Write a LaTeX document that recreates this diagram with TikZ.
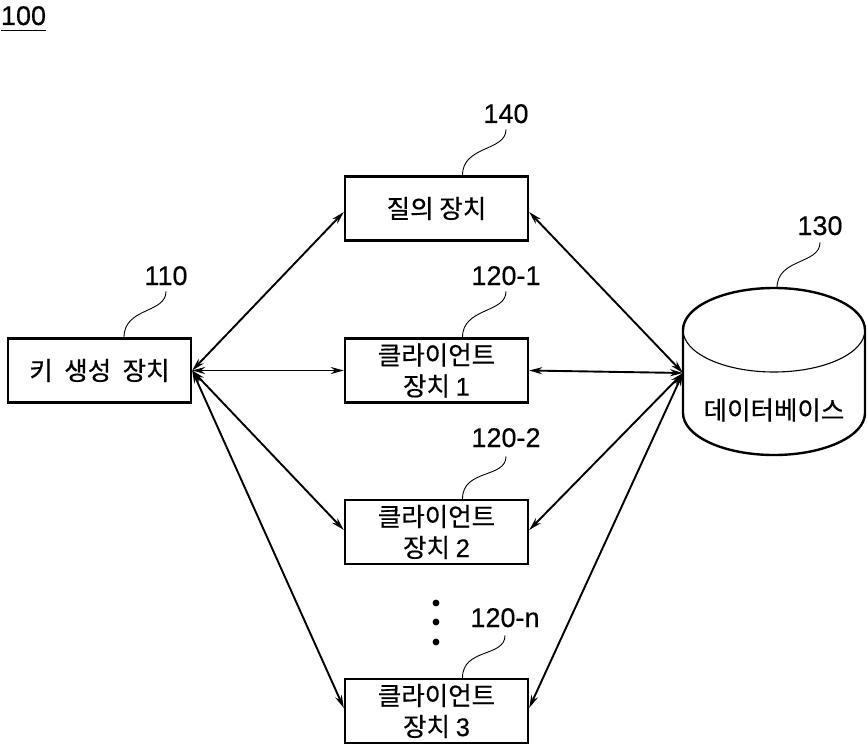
\documentclass[tikz,border=0pt]{standalone}
\usepackage{fontspec}
\setmainfont{Liberation Sans}[FakeBold=0.4]
\newfontfamily\krfont{Noto Sans CJK KR}[FakeBold=0.5]
\usetikzlibrary{arrows.meta,calc}
\begin{document}
\begin{tikzpicture}[x=1pt,y=-1pt,
  box/.style={draw,line width=2.4pt,minimum width=183pt,minimum height=64pt,inner sep=0pt,align=center,font=\krfont\fontsize{25.5}{31}\selectfont},
  lbl/.style={font=\fontsize{27}{30}\selectfont,anchor=base,inner sep=0pt},
  lead/.style={line width=0.9pt},
  conn/.style={{Stealth[length=13pt,width=7pt]}-{Stealth[length=13pt,width=7pt]},line width=1.9pt}]
\useasboundingbox (0,0) rectangle (867,746);

% title
\node[lbl] (l100) at (23.5,25) {100};
\draw[line width=1.4pt] ([yshift=-5pt]l100.south west) -- ([yshift=-5pt]l100.south east);

% boxes
\node[box] (kg) at (99.5,370.5) {키\hspace{0.45em}생성\hspace{0.45em}장치};
\node[box] (q)  at (436.5,208.5) {질의 장치};
\node[box] (c1) at (436.5,370.5) {클라이언트\\장치 {\rmfamily 1}};
\node[box] (c2) at (436.5,532) {클라이언트\\장치 {\rmfamily 2}};
\node[box] (c3) at (436.5,711) {클라이언트\\장치 {\rmfamily 3}};

% database cylinder
\draw[line width=2.4pt] (683,413) -- (683,330)
  arc[start angle=180,end angle=360,x radius=91,y radius=42] -- (865,413)
  arc[start angle=0,end angle=180,x radius=91,y radius=42] -- cycle;
\draw[line width=1.1pt] (683,330) arc[start angle=180,end angle=0,x radius=91,y radius=42];
\node[font=\krfont\fontsize{25.5}{31}\selectfont,inner sep=0pt] (db) at (774,410) {데이터베이스};
\coordinate (dbw) at (683,373);

% connectors
\draw[conn] (kg.east) -- ([yshift=-3.5pt]q.west);
\draw[conn] (kg.east) -- (c1.west);
\draw[conn] (kg.east) -- ([yshift=2pt]c2.west);
\draw[conn] (kg.east) -- ([yshift=3pt]c3.west);
\draw[conn] (dbw) -- ([yshift=-3.5pt]q.east);
\draw[conn] (dbw) -- (c1.east);
\draw[conn] (dbw) -- ([yshift=2pt]c2.east);
\draw[conn] (dbw) -- ([yshift=3pt]c3.east);

% dots
\fill (436,603) circle[radius=3.4pt];
\fill (436,622) circle[radius=3.4pt];
\fill (436,642) circle[radius=3.4pt];

% reference labels
\node[lbl] (l140) at (506,123) {140};
\node[lbl] (l110) at (166,285) {110};
\node[lbl] (l130) at (820,235) {130};
\node[lbl] (l1201) at (506,285) {120-1};
\node[lbl] (l1202) at (506,447) {120-2};
\node[lbl] (l120n) at (505,627) {120-n};

\draw[lead] ([xshift=26pt]q.north) .. controls +(0,-30) and +(0,22) .. ([yshift=-6pt]l140.south);
\draw[lead] ([xshift=24.5pt]kg.north) .. controls +(0,-30) and +(0,22) .. ([yshift=-6pt]l110.south);
\draw[lead] (777,288) .. controls +(0,-30) and +(0,22) .. ([yshift=-7pt]l130.south);
\draw[lead] ([xshift=26pt]c1.north) .. controls +(0,-30) and +(0,22) .. ([yshift=-6pt]l1201.south);
\draw[lead] ([xshift=26pt]c2.north) .. controls +(0,-30) and +(0,22) .. ([yshift=-9pt]l1202.south);
\draw[lead] ([xshift=26pt]c3.north) .. controls +(0,-30) and +(0,22) .. ([yshift=-8pt]l120n.south);
\end{tikzpicture}
\end{document}
